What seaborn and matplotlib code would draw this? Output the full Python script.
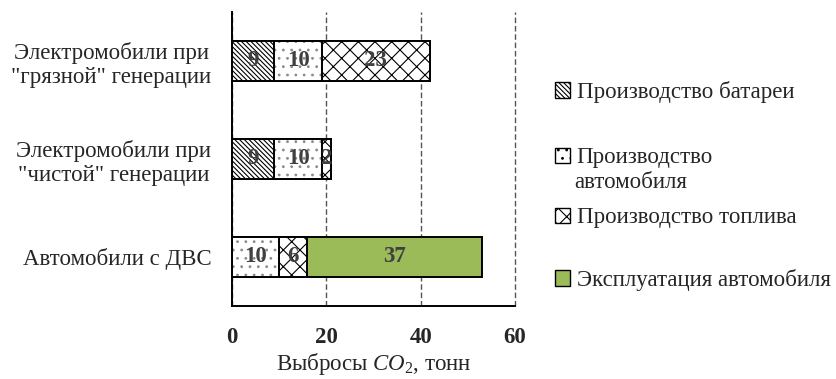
import matplotlib
matplotlib.use("Agg")
import matplotlib.pyplot as plt
import seaborn as sns
import pandas as pd
import numpy as np
from matplotlib.patches import Patch

categories = ['Электромобили при\n"грязной" генерации',
              'Электромобили при\n"чистой" генерации',
              'Автомобили с ДВС']
battery = [9, 9, 0]
car = [10, 10, 10]
fuel = [23, 2, 6]
operation = [0, 0, 37]
series_names = ["Производство батареи", "Производство автомобиля",
                "Производство топлива", "Эксплуатация автомобиля"]
xticks = [0, 20, 40, 60]

sns.set_theme(style="white")
plt.rcParams['font.family'] = ['Liberation Serif', 'DejaVu Serif']
plt.rcParams['mathtext.fontset'] = 'custom'
plt.rcParams['mathtext.rm'] = 'Liberation Serif'
plt.rcParams['mathtext.it'] = 'Liberation Serif:italic'
plt.rcParams['hatch.linewidth'] = 0.8

FS = 16.5
fig = plt.figure(figsize=(8.37, 3.79), dpi=100)
ax = fig.add_axes([232/837, 1-306/379, (515-232)/837, (306-12)/379])

series = [battery, car, fuel, operation]
cum = np.cumsum(np.array(series, dtype=float), axis=0)
df = pd.DataFrame({"category": categories})
for i in range(4):
    df[f"c{i}"] = cum[i]

styles = [
    dict(facecolor="white", edgecolor="black", hatch="\\" * 7),
    dict(facecolor="white", edgecolor="#8c8c8c", hatch=".."),
    dict(facecolor="white", edgecolor="black", hatch="xx"),
    dict(facecolor="#9BBB59", edgecolor="black", hatch=None),
]
W = 0.41
# draw from the outermost cumulative layer inward
for i in [3, 2, 1, 0]:
    sns.barplot(data=df, x=f"c{i}", y="category", orient="h", ax=ax,
                width=W, saturation=1, linewidth=0, **styles[i])
    sns.barplot(data=df, x=f"c{i}", y="category", orient="h", ax=ax,
                width=W, saturation=1, facecolor="none", edgecolor="black",
                linewidth=1.4)

# value labels
for j in range(3):
    left = 0
    for i in range(4):
        v = series[i][j]
        if v > 0:
            ax.text(left + v / 2, j, str(v), ha="center", va="center",
                    fontsize=FS, fontweight="bold", color="#404040")
        left += v

ax.set_xlim(0, 60)
ax.set_ylim(2.5, -0.5)
ax.set_xticks(xticks)
ax.set_xticklabels([str(t) for t in xticks], fontsize=FS, fontweight="bold")
ax.tick_params(axis="x", length=0, pad=15)
ax.tick_params(axis="y", length=0, pad=15, labelsize=FS)
for lab in ax.get_yticklabels():
    lab.set_multialignment("center")
ax.set_ylabel("")
ax.set_xlabel(r"Выбросы $\mathit{CO}_2$, тонн", fontsize=FS, labelpad=2)
ax.xaxis.grid(True, linestyle=(0, (4, 2)), color="#555555", linewidth=1)
for gl in ax.get_xgridlines():
    gl.set_clip_on(False)
ax.set_axisbelow(True)
for s in ["top", "right"]:
    ax.spines[s].set_visible(False)
for s in ["left", "bottom"]:
    ax.spines[s].set_color("black")
    ax.spines[s].set_linewidth(1.4)

# legend entries placed individually
legend_y = [92, 158, 218, 280]
for i in range(4):
    h = Patch(**styles[i])
    if i == 1:
        h = Patch(facecolor="white", edgecolor="black", hatch="..")
    label = series_names[i]
    if i == 1:
        label = "Производство"
    fig.legend(handles=[h], labels=[label], loc="center left",
               bbox_to_anchor=(555/837, 1 - legend_y[i]/379),
               frameon=False, fontsize=FS, handlelength=0.65,
               handleheight=0.65, handletextpad=0.3, borderpad=0,
               borderaxespad=0)
fig.text(574/837, 1 - 183/379, "автомобиля", fontsize=FS,
         ha="left", va="center")

fig.savefig("out.png", dpi=100)
